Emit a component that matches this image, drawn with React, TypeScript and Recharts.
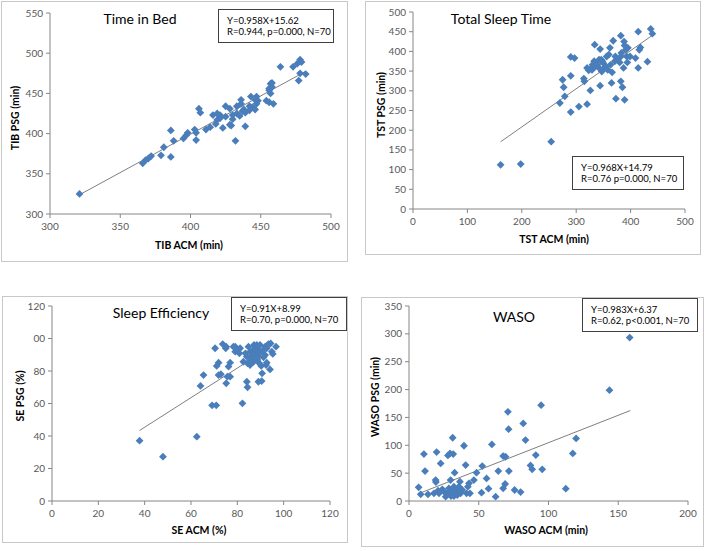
import { ScatterChart, Scatter, XAxis, YAxis, ReferenceLine } from "recharts";

// Time in Bed
const tibAcm = [321, 366, 368, 370, 372, 379, 381, 386, 386, 388, 395, 397, 398, 403, 404, 404, 406, 407, 411, 414, 416, 418, 419, 421, 423, 425, 425, 428, 429, 430, 432, 433, 433, 435, 436, 437, 438, 439, 439, 442, 443, 444, 446, 446, 447, 448, 454, 456, 456, 457, 457, 459, 458, 464, 473, 476, 478, 477, 478, 482, 479, 430, 428, 436, 419, 421, 442, 447, 456, 458];
const tibPsg = [325, 363, 367, 369, 372, 373, 383, 404, 371, 391, 394, 398, 401, 405, 392, 401, 431, 426, 405, 408, 423, 412, 425, 419, 407, 434, 421, 411, 410, 418, 391, 425, 434, 422, 437, 428, 430, 409, 426, 434, 446, 433, 430, 442, 446, 441, 441, 439, 456, 462, 450, 437, 463, 483, 483, 487, 492, 466, 475, 474, 489, 423, 431, 442, 417, 423, 429, 437, 454, 458];
const tibFitX = [321, 482];
const tibFitY = [323.9, 477.4];
const tibXTicks = [300, 350, 400, 450, 500];
const tibYTicks = [300, 350, 400, 450, 500, 550];

// Total Sleep Time
const tstAcm = [161, 198, 254, 270, 275, 277, 279, 290, 290, 290, 297, 305, 314, 315, 320, 323, 326, 328, 330, 333, 334, 339, 342, 344, 344, 346, 347, 350, 352, 356, 358, 360, 362, 365, 366, 368, 371, 373, 376, 380, 382, 382, 383, 385, 387, 388, 389, 389, 391, 393, 394, 395, 409, 414, 414, 416, 418, 431, 437, 440, 399, 342, 336, 320, 354, 372, 382, 363, 348, 329];
const tstPsg = [112, 114, 171, 269, 328, 309, 286, 246, 338, 386, 383, 260, 331, 324, 266, 352, 301, 358, 366, 375, 417, 366, 358, 406, 313, 379, 349, 370, 358, 387, 353, 392, 409, 320, 347, 427, 375, 280, 379, 372, 440, 324, 396, 309, 358, 425, 415, 277, 404, 387, 372, 409, 383, 358, 450, 404, 410, 374, 457, 445, 387, 379, 362, 358, 362, 387, 387, 366, 375, 353];
const tstFitX = [161, 439];
const tstFitY = [170.6, 439.8];
const tstXTicks = [0, 100, 200, 300, 400, 500];
const tstYTicks = [0, 50, 100, 150, 200, 250, 300, 350, 400, 450, 500];

// Sleep Efficiency
const seAcm = [37.8, 47.9, 62.5, 64.1, 65.4, 69.1, 70.9, 70.4, 71.1, 71.9, 71.9, 72.9, 73.7, 75, 75.2, 75.7, 76.2, 76.9, 78.3, 79.8, 80.9, 82.6, 82.2, 83.5, 84.1, 84.4, 84.8, 85.2, 85.5, 85.8, 86.7, 87.2, 88.1, 88.4, 88.7, 89.1, 89.5, 89.8, 90.3, 90.5, 90.7, 91.3, 92, 92.4, 93.4, 94.1, 94.4, 95.3, 96.7, 92.7, 89.1, 87.6, 86.2, 84.1, 87, 90.5, 81.2, 79.1, 75.2, 91.3, 88.4, 92, 85.5, 84.4, 87, 89.8, 76.9, 79.1, 92.7, 94.9];
const sePsg = [37.1, 27.3, 39.6, 70.8, 77.5, 58.9, 58.9, 94, 83.1, 85.1, 77.5, 78, 96.6, 94, 72.4, 76.5, 82.7, 85.1, 95, 92.9, 90.9, 85.7, 60.1, 90.9, 73.4, 70, 95, 85.7, 83.7, 89.2, 92.9, 96, 89.8, 94, 86.8, 73.4, 84.7, 91.9, 83.1, 73.8, 78.6, 88.4, 95, 83.7, 96.6, 81, 97, 90.5, 95, 85.1, 88.8, 91.9, 87.8, 88.8, 85.7, 91.9, 94, 95, 95, 92.9, 96, 89.8, 91.9, 84.7, 89.8, 96, 76.5, 91.9, 94, 91.9];
const seFitX = [37.8, 94.4];
const seFitY = [43.4, 94.9];
const seXTicks = [0, 20, 40, 60, 80, 100, 120];
const seYTicks = [0, 20, 40, 60, 80, 100, 120];
const seYTickLabels = ["0", "20", "40", "60", "80", "00", "120"];

// WASO
const wasoAcm = [6.9, 8.4, 10.7, 11.5, 13.6, 17.9, 19.1, 19.3, 19.8, 20.8, 22.7, 23.9, 26.3, 27.9, 29.4, 29.8, 30.1, 31.3, 31.7, 32.2, 32.7, 33.4, 34.6, 36.5, 37, 39.4, 40.6, 41.3, 42.2, 43, 46.5, 48.4, 52, 52.5, 55.6, 57, 59.4, 62.1, 64, 67.5, 67.5, 68.9, 69.2, 70.9, 71.4, 71.6, 75.7, 80, 81.9, 83.5, 87.1, 88.3, 90.9, 94.7, 95.5, 112.4, 117.4, 119.8, 143.7, 158.2, 27.4, 31, 32.2, 34.6, 38.2, 28.6, 25.1, 35.8, 43.7, 21.5];
const wasoPsg = [24.5, 12, 84.2, 53.8, 12, 13.7, 37.6, 34, 87.8, 18.5, 67.5, 20.9, 7.8, 81.8, 85.4, 37.6, 9, 113.5, 84.2, 25.7, 50.8, 13.7, 19.7, 34.6, 13.7, 99.2, 64.5, 13.7, 25.7, 31.7, 37.6, 50.8, 14.9, 62.7, 40.6, 22.1, 101.6, 7.8, 53.8, 80.6, 22.7, 30.5, 79.4, 160.1, 129, 53.8, 19.7, 16.1, 139.2, 109.3, 63.9, 56.8, 82.4, 172, 56.8, 22.1, 85.4, 112.3, 198.9, 293.3, 13.7, 16.7, 9, 10.8, 19.7, 22.7, 16.7, 25.7, 13.7, 13.7];
const wasoFitX = [7, 158.7];
const wasoFitY = [13.3, 162.4];
const wasoXTicks = [0, 50, 100, 150, 200];
const wasoYTicks = [0, 50, 100, 150, 200, 250, 300, 350];

const FONT = "Lato, 'Open Sans', sans-serif";
const BLUE = "#4A7EBB";
const AXIS = "#868686";
const TICK_TEXT = "#595959";

const Diamond = (props: any) => {
  const { cx, cy } = props;
  const r = 3.9;
  return (
    <polygon
      points={`${cx},${cy - r} ${cx + r},${cy} ${cx},${cy + r} ${cx - r},${cy}`}
      fill={BLUE}
    />
  );
};

interface Box {
  x: number;
  y: number;
  w: number;
  h: number;
}

interface PanelProps {
  box: Box;
  plot: { x0: number; y0: number; x1: number; y1: number };
  xs: number[];
  ys: number[];
  fitX: number[];
  fitY: number[];
  xTicks: number[];
  yTicks: number[];
  yTickLabels?: string[];
  title: string;
  titlePos: { x: number; y: number };
  eq: string[];
  eqBox: Box;
  xLabel: string;
  xLabelPos: { x: number; y: number };
  yLabel: string;
  yLabelPos: { x: number; y: number };
}

const Panel = (p: PanelProps) => {
  const data = p.xs.map((x, i) => ({ x, y: p.ys[i] }));
  const { box, plot } = p;
  const tickStyle = { fill: TICK_TEXT, fontSize: 10, fontFamily: FONT };
  return (
    <>
      <div
        style={{
          position: "absolute",
          left: box.x,
          top: box.y,
          width: box.w,
          height: box.h,
          border: "1px solid #c8c8c8",
          boxSizing: "border-box",
        }}
      />
      <div style={{ position: "absolute", left: box.x, top: box.y }}>
        <ScatterChart
          width={box.w}
          height={box.h}
          margin={{ top: plot.y0 - box.y, right: box.x + box.w - plot.x1, bottom: 0, left: 0 }}
        >
          <XAxis
            type="number"
            dataKey="x"
            domain={[p.xTicks[0], p.xTicks[p.xTicks.length - 1]]}
            ticks={p.xTicks}
            height={box.y + box.h - plot.y1}
            stroke={AXIS}
            tick={tickStyle}
            tickSize={4}
            tickMargin={5}
            allowDataOverflow
          />
          <YAxis
            type="number"
            dataKey="y"
            domain={[p.yTicks[0], p.yTicks[p.yTicks.length - 1]]}
            ticks={p.yTicks}
            width={plot.x0 - box.x}
            stroke={AXIS}
            tick={tickStyle}
            tickSize={4}
            tickMargin={3}
            tickFormatter={(v: number) =>
              p.yTickLabels ? p.yTickLabels[p.yTicks.indexOf(v)] : String(v)
            }
            allowDataOverflow
          />
          <Scatter data={data} shape={<Diamond />} isAnimationActive={false} />
          <ReferenceLine
            segment={[
              { x: p.fitX[0], y: p.fitY[0] },
              { x: p.fitX[1], y: p.fitY[1] },
            ]}
            stroke="#7f7f7f"
            strokeWidth={1}
            ifOverflow="visible"
          />
        </ScatterChart>
      </div>
      <div
        style={{
          position: "absolute",
          left: p.titlePos.x,
          top: p.titlePos.y,
          transform: "translate(-50%, -50%)",
          fontFamily: FONT,
          fontSize: 14,
          color: "#000",
          whiteSpace: "nowrap",
        }}
      >
        {p.title}
      </div>
      <div
        style={{
          position: "absolute",
          left: p.eqBox.x,
          top: p.eqBox.y,
          width: p.eqBox.w,
          height: p.eqBox.h,
          border: "1px solid #404040",
          boxSizing: "border-box",
          background: "#fff",
          fontFamily: FONT,
          fontSize: 9.5,
          lineHeight: "11px",
          padding: "5px 0 0 8px",
          color: "#000",
          whiteSpace: "nowrap",
        }}
      >
        {p.eq.map((line) => (
          <div key={line}>{line}</div>
        ))}
      </div>
      <div
        style={{
          position: "absolute",
          left: p.xLabelPos.x,
          top: p.xLabelPos.y,
          transform: "translate(-50%, -50%)",
          fontFamily: FONT,
          fontSize: 10.5,
          fontWeight: "bold",
          color: "#000",
          whiteSpace: "nowrap",
        }}
      >
        {p.xLabel}
      </div>
      <div
        style={{
          position: "absolute",
          left: p.yLabelPos.x,
          top: p.yLabelPos.y,
          transform: "translate(-50%, -50%) rotate(-90deg)",
          fontFamily: FONT,
          fontSize: 10.5,
          fontWeight: "bold",
          color: "#000",
          whiteSpace: "nowrap",
        }}
      >
        {p.yLabel}
      </div>
    </>
  );
};

const App = () => {
  return (
    <div style={{ position: "absolute", left: 0, top: 0, width: 708, height: 551, background: "#fff" }}>
      <Panel
        box={{ x: 1, y: 1, w: 347, h: 261 }}
        plot={{ x0: 50, y0: 13, x1: 331, y1: 214 }}
        xs={tibAcm}
        ys={tibPsg}
        fitX={tibFitX}
        fitY={tibFitY}
        xTicks={tibXTicks}
        yTicks={tibYTicks}
        title="Time in Bed"
        titlePos={{ x: 140, y: 18 }}
        eq={["Y=0.958X+15.62", "R=0.944, p=0.000, N=70"]}
        eqBox={{ x: 218, y: 9, w: 116, h: 34 }}
        xLabel="TIB ACM (min)"
        xLabelPos={{ x: 189, y: 245 }}
        yLabel="TIB PSG (min)"
        yLabelPos={{ x: 15, y: 118 }}
      />
      <Panel
        box={{ x: 365, y: 1, w: 336, h: 254 }}
        plot={{ x0: 413, y0: 12, x1: 685, y1: 209 }}
        xs={tstAcm}
        ys={tstPsg}
        fitX={tstFitX}
        fitY={tstFitY}
        xTicks={tstXTicks}
        yTicks={tstYTicks}
        title="Total Sleep Time"
        titlePos={{ x: 501, y: 18 }}
        eq={["Y=0.968X+14.79", "R=0.76 p=0.000, N=70"]}
        eqBox={{ x: 572, y: 156, w: 112, h: 34 }}
        xLabel="TST ACM (min)"
        xLabelPos={{ x: 554, y: 239 }}
        yLabel="TST PSG (min)"
        yLabelPos={{ x: 381, y: 105 }}
      />
      <Panel
        box={{ x: 2, y: 296, w: 346, h: 247 }}
        plot={{ x0: 52, y0: 306, x1: 330, y1: 501 }}
        xs={seAcm}
        ys={sePsg}
        fitX={seFitX}
        fitY={seFitY}
        xTicks={seXTicks}
        yTicks={seYTicks}
        yTickLabels={seYTickLabels}
        title="Sleep Efficiency"
        titlePos={{ x: 161, y: 312 }}
        eq={["Y=0.91X+8.99", "R=0.70, p=0.000, N=70"]}
        eqBox={{ x: 231, y: 297, w: 116, h: 34 }}
        xLabel="SE ACM (%)"
        xLabelPos={{ x: 199, y: 530 }}
        yLabel="SE PSG (%)"
        yLabelPos={{ x: 20, y: 396 }}
      />
      <Panel
        box={{ x: 361, y: 297, w: 343, h: 250 }}
        plot={{ x0: 409, y0: 306, x1: 688, y1: 501 }}
        xs={wasoAcm}
        ys={wasoPsg}
        fitX={wasoFitX}
        fitY={wasoFitY}
        xTicks={wasoXTicks}
        yTicks={wasoYTicks}
        title="WASO"
        titlePos={{ x: 514, y: 316 }}
        eq={["Y=0.983X+6.37", "R=0.62, p<0.001, N=70"]}
        eqBox={{ x: 582, y: 298, w: 116, h: 34 }}
        xLabel="WASO ACM (min)"
        xLabelPos={{ x: 546, y: 530 }}
        yLabel="WASO PSG (min)"
        yLabelPos={{ x: 375, y: 397 }}
      />
    </div>
  );
};

export default App;
